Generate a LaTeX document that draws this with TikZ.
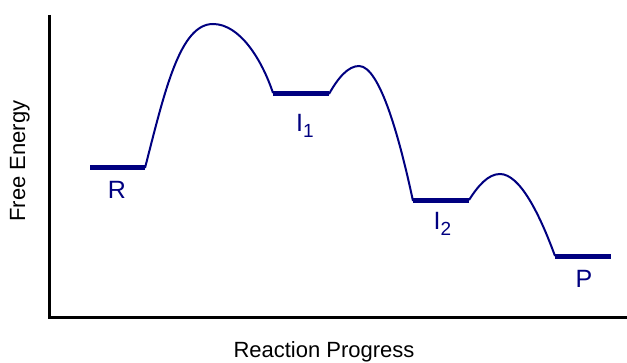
\documentclass[tikz,border=0pt]{standalone}
\usepackage{fontspec}
\setmainfont{Liberation Sans}
\definecolor{navyc}{RGB}{0,0,128}
\tikzset{
  axisline/.style={line width=3pt, black},
  level/.style={line width=5pt, navyc},
  barrier/.style={line width=2pt, navyc},
  lab/.style={navyc, anchor=base, inner sep=0pt, font=\fontsize{25}{30}\selectfont},
  axlab/.style={black, anchor=base, inner sep=0pt, font=\fontsize{22}{26}\selectfont}
}
\newcommand{\subnum}[1]{\raisebox{-5.5pt}{\fontsize{19}{23}\selectfont #1}}
\begin{document}
\begin{tikzpicture}[x=1pt,y=1pt]
\useasboundingbox (0,0) rectangle (627,362);
% axes
\draw[axisline] (49,347) -- (49,45) -- (627,45);
% levels
\draw[level] (90,194) -- (145,194);
\draw[level] (273,268) -- (329,268);
\draw[level] (413,161) -- (469,161);
\draw[level] (555,106) -- (611,106);
% barriers
\draw[barrier] (145,194) .. controls (165,272) and (180,338) .. (213,338)
  .. controls (240,338) and (262,302) .. (273,269);
\draw[barrier] (329,268) .. controls (338,284) and (348,296) .. (359,296)
  .. controls (380,296) and (400,222) .. (413,161);
\draw[barrier] (469,162) .. controls (478,176) and (488,188) .. (500,188)
  .. controls (520,188) and (540,147) .. (555,106);
% labels
\node[lab] (R) at (117,163) {R};
\node[lab] (I1) at (305,230) {I\subnum{1}};
\node[lab] (I2) at (442.5,132) {I\subnum{2}};
\node[lab] (P) at (584,75) {P};
\node[axlab, rotate=90] (fe) at (25,201) {Free Energy};
\node[axlab] (rp) at (324,5) {Reaction Progress};
\end{tikzpicture}
\end{document}
